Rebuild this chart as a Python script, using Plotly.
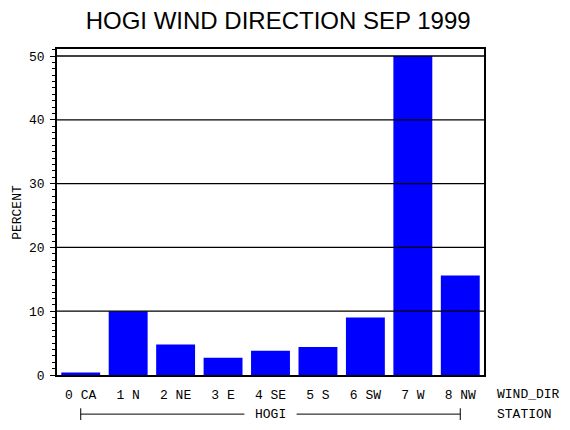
import plotly.graph_objects as go

# wind direction categories and percent of hours, Sep 1999 at HOGI
wind_dir = ["0 CA", "1 N", "2 NE", "3 E", "4 SE", "5 S", "6 SW", "7 W", "8 NW"]
percent = [0.4, 10.0, 4.8, 2.7, 3.8, 4.4, 9.0, 50.0, 15.6]
y_ticks = [0, 10, 20, 30, 40, 50]
station = "HOGI"

mono = "Liberation Mono"

fig = go.Figure(go.Bar(
    x=list(range(len(wind_dir))),
    y=percent,
    marker=dict(color="#0000FF", line=dict(width=0)),
    width=0.82,
))

# black grid lines drawn over the bars
shapes = []
for t in y_ticks[1:]:
    shapes.append(dict(type="line", xref="paper", yref="y", x0=0, x1=1, y0=t, y1=t,
                       line=dict(color="black", width=1.3), layer="above"))

# station bracket under the category labels
last = len(wind_dir) - 1
for x0, x1 in [(0, 3.45), (4.55, last)]:
    shapes.append(dict(type="line", xref="x", yref="paper", x0=x0, x1=x1, y0=-0.12, y1=-0.12,
                       line=dict(color="black", width=1)))
for xe in [0, last]:
    shapes.append(dict(type="line", xref="x", yref="paper", x0=xe, x1=xe, y0=-0.102, y1=-0.138,
                       line=dict(color="black", width=1)))

fig.update_layout(
    width=570, height=430,
    margin=dict(l=57, r=86, t=49, b=55),
    plot_bgcolor="white", paper_bgcolor="white",
    showlegend=False,
    title=dict(text="HOGI WIND DIRECTION SEP 1999", x=0.488, xanchor="center",
               y=0.953, yanchor="middle",
               font=dict(family="Liberation Sans", size=24, color="black")),
    shapes=shapes,
    annotations=[
        dict(text="WIND_DIR", xref="paper", yref="paper", x=1.025, y=-0.06,
             xanchor="left", yanchor="middle", showarrow=False,
             font=dict(family=mono, size=13, color="black")),
        dict(text="STATION", xref="paper", yref="paper", x=1.025, y=-0.12,
             xanchor="left", yanchor="middle", showarrow=False,
             font=dict(family=mono, size=13, color="black")),
        dict(text=station, xref="x", yref="paper", x=last / 2, y=-0.12,
             xanchor="center", yanchor="middle", showarrow=False,
             font=dict(family=mono, size=13, color="black")),
        dict(text="PERCENT", xref="paper", yref="paper", x=-0.094, y=0.5,
             xanchor="center", yanchor="middle", textangle=-90, showarrow=False,
             font=dict(family=mono, size=13, color="black")),
    ],
)

fig.update_xaxes(
    range=[-0.5, len(wind_dir) - 0.5],
    tickmode="array", tickvals=list(range(len(wind_dir))), ticktext=wind_dir,
    ticks="", showgrid=False, zeroline=False,
    showline=True, linecolor="black", linewidth=1.5, mirror=True,
    ticklabelstandoff=7,
    tickfont=dict(family=mono, size=13, color="black"),
)
fig.update_yaxes(
    range=[0, 51.1],
    tickmode="array", tickvals=y_ticks,
    ticks="outside", ticklen=5, tickcolor="black", tickwidth=1.3,
    minor=dict(dtick=1, ticks="outside", ticklen=3, tickcolor="black", tickwidth=1, showgrid=False),
    showgrid=False, zeroline=False,
    showline=True, linecolor="black", linewidth=1.5, mirror=True,
    ticklabelstandoff=3,
    tickfont=dict(family=mono, size=13, color="black"),
)

# drop the default page margin so the figure sits at the window's corner
fig.write_html("out.html", config={"displayModeBar": False},
               post_script="document.body.style.margin='0';")
